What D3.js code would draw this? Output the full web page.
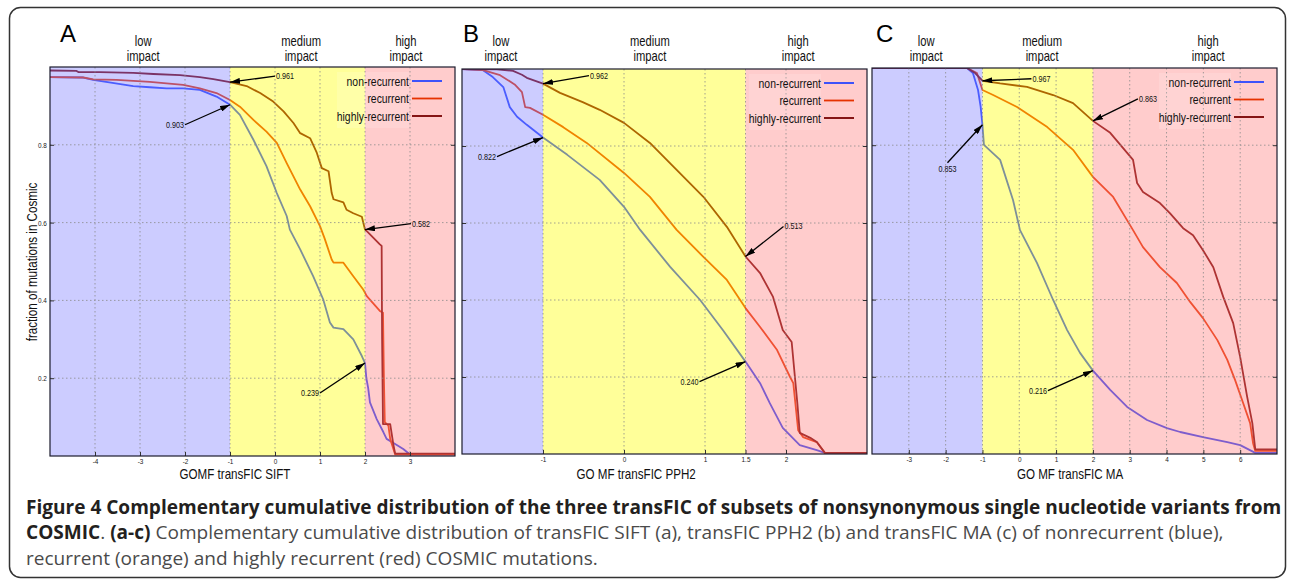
<!DOCTYPE html>
<html>
<head>
<meta charset="utf-8">
<script src="https://cdn.jsdelivr.net/npm/d3@7"></script>
<style>
  body { margin: 0; background: #fff; }
  svg { display: block; }
  .nar { font-family: "Liberation Sans", Arial, sans-serif; }
  .cap { font-family: "Open Sans", "Noto Sans", sans-serif; }
</style>
</head>
<body>
<svg id="fig" width="1290" height="579"></svg>
<script>
// series and impact classes
const seriesNames = ["non-recurrent", "recurrent", "highly-recurrent"];
const impactNames = ["low", "medium", "high"];
const yGrid = [0.2, 0.4, 0.6, 0.8];

// A : GOMF transFIC SIFT
const siftTicks = [-4, -3, -2, -1, 0, 1, 2, 3];
const siftCuts = [-5, -1, 2, 4];
const siftNonRec = [[-5,0.974],[-4.26,0.973],[-4.04,0.967],[-3.15,0.951],[-2.78,0.948],[-2.41,0.945],[-2.04,0.945],[-1.67,0.941],[-1.30,0.924],[-1.0,0.903],[-0.78,0.877],[-0.48,0.813],[-0.19,0.745],[0.04,0.676],[0.26,0.617],[0.33,0.582],[0.56,0.531],[0.85,0.462],[1.07,0.403],[1.22,0.343],[1.30,0.330],[1.52,0.326],[1.74,0.300],[1.93,0.257],[2.0,0.239],[2.03,0.200],[2.07,0.175],[2.11,0.138],[2.26,0.095],[2.41,0.061],[2.48,0.044],[2.67,0.031],[2.85,0.018],[3.0,0.004],[4,0.004]];
const siftRec = [[-5,0.974],[-4.26,0.973],[-4.04,0.968],[-3.52,0.967],[-2.78,0.962],[-2.04,0.954],[-1.67,0.945],[-1.30,0.933],[-1.0,0.915],[-0.78,0.898],[-0.48,0.864],[-0.19,0.834],[0.04,0.805],[0.26,0.753],[0.56,0.685],[0.78,0.642],[1.0,0.591],[1.10,0.560],[1.26,0.505],[1.30,0.497],[1.52,0.497],[1.74,0.462],[1.96,0.428],[2.04,0.411],[2.33,0.373],[2.40,0.368],[2.42,0.200],[2.44,0.087],[2.52,0.078],[2.56,0.044],[2.67,0.004],[4,0.004]];
const siftHigh = [[-5,0.991],[-4.41,0.990],[-4.37,0.987],[-3.89,0.987],[-3.15,0.985],[-2.70,0.982],[-2.11,0.979],[-1.67,0.974],[-1.37,0.969],[-1.0,0.961],[-0.63,0.951],[-0.33,0.933],[-0.04,0.911],[0.19,0.886],[0.41,0.856],[0.56,0.830],[0.78,0.817],[0.93,0.779],[1.04,0.740],[1.19,0.732],[1.26,0.676],[1.30,0.660],[1.52,0.652],[1.59,0.633],[1.74,0.624],[1.93,0.615],[2.0,0.582],[2.04,0.578],[2.33,0.544],[2.37,0.540],[2.38,0.300],[2.40,0.082],[2.56,0.082],[2.63,0.030],[2.67,0.006],[4,0.006]];
const siftNotes = [[-1, 0.961], [-1, 0.903], [2, 0.582], [2, 0.239]];

// B : GO MF transFIC PPH2
const pph2Ticks = [-1, 0, 1, 1.5, 2];
const pph2Cuts = [-2, -1, 1.5, 3];
const pph2NonRec = [[-2,1.0],[-1.74,0.997],[-1.62,0.979],[-1.49,0.953],[-1.41,0.901],[-1.32,0.876],[-1.20,0.855],[-1.0,0.822],[-0.70,0.777],[-0.30,0.712],[0,0.642],[0.20,0.582],[0.57,0.486],[0.94,0.400],[1.22,0.322],[1.5,0.240],[1.68,0.184],[1.80,0.132],[1.96,0.068],[2.17,0.023],[2.38,0.010],[2.48,0.003],[3,0.003]];
const pph2Rec = [[-2,1.0],[-1.74,0.997],[-1.53,0.984],[-1.35,0.960],[-1.26,0.940],[-1.22,0.901],[-1.16,0.899],[-1.0,0.881],[-0.75,0.849],[-0.46,0.808],[0,0.730],[0.32,0.668],[0.65,0.582],[0.98,0.512],[1.27,0.452],[1.5,0.379],[1.68,0.330],[1.89,0.270],[2.05,0.200],[2.09,0.184],[2.15,0.062],[2.21,0.044],[2.38,0.031],[2.48,0.003],[3,0.003]];
const pph2High = [[-2,1.0],[-1.57,0.999],[-1.37,0.995],[-1.26,0.985],[-1.20,0.977],[-1.0,0.962],[-0.79,0.938],[-0.51,0.914],[-0.30,0.894],[0,0.860],[0.32,0.808],[0.65,0.738],[0.98,0.668],[1.27,0.590],[1.5,0.513],[1.68,0.470],[1.84,0.408],[1.96,0.322],[2.07,0.291],[2.11,0.200],[2.14,0.132],[2.17,0.055],[2.30,0.042],[2.38,0.031],[2.48,0.003],[3,0.003]];
const pph2Notes = [[-1, 0.962], [-1, 0.822], [1.5, 0.513], [1.5, 0.240]];

// C : GO MF transFIC MA
const maTicks = [-3, -2, -1, 0, 1, 2, 3, 4, 5, 6];
const maCuts = [-4, -1, 2, 7];
const maNonRec = [[-4,1.0],[-1.42,1.0],[-1.26,0.987],[-1.12,0.943],[-1.05,0.900],[-1.0,0.853],[-0.96,0.801],[-0.52,0.762],[-0.17,0.658],[0.02,0.580],[0.48,0.495],[0.92,0.399],[1.30,0.321],[1.65,0.262],[2.0,0.216],[2.47,0.166],[2.93,0.122],[3.47,0.088],[4.01,0.067],[4.37,0.057],[4.99,0.044],[5.65,0.031],[6.0,0.023],[6.41,0.003],[7,0.003]];
const maRec = [[-4,1.0],[-1.42,1.0],[-1.15,0.987],[-1.0,0.943],[-0.71,0.930],[-0.06,0.899],[0.76,0.847],[1.46,0.788],[2.0,0.718],[2.55,0.666],[3.09,0.580],[3.36,0.536],[3.82,0.484],[4.28,0.443],[4.64,0.394],[4.99,0.352],[5.38,0.295],[5.65,0.244],[5.86,0.192],[6.08,0.132],[6.27,0.080],[6.35,0.028],[6.41,0.008],[7,0.008]];
const maHigh = [[-4,1.0],[-1.42,1.0],[-1.20,0.987],[-1.0,0.967],[-0.52,0.960],[0.21,0.951],[0.92,0.930],[1.46,0.909],[2.0,0.863],[2.47,0.832],[2.93,0.780],[3.09,0.762],[3.20,0.702],[3.36,0.679],[3.82,0.650],[4.09,0.624],[4.45,0.585],[4.72,0.567],[4.99,0.528],[5.27,0.484],[5.54,0.407],[5.81,0.339],[6.0,0.251],[6.19,0.148],[6.33,0.080],[6.41,0.012],[7,0.012]];
const maNotes = [[-1, 0.967], [-1, 0.853], [2, 0.863], [2, 0.216]];

const lineColors = ["rgb(40,70,255)", "rgb(230,50,0)", "rgb(120,0,0)"];
const bandColors = ["rgb(127,127,255)", "rgb(255,255,0)", "rgb(255,127,127)"];
const SQ = 0.8; // horizontal squeeze, stands in for a narrow face

const panels = [
  { letter: "A", letterX: 60, left: 50, right: 455, top: 67, bottom: 456, domain: [-5, 4],
    ticks: siftTicks, cuts: siftCuts, series: [siftNonRec, siftRec, siftHigh], notes: siftNotes,
    noteOff: [[45, -6, "start"], [-45, 20, "end"], [46, -6, "start"], [-45, 30, "end"]],
    impactAt: [-2.93, 0.58, 2.91], title: "GOMF transFIC SIFT", titleAt: -0.89, yLabels: true },
  { letter: "B", letterX: 463, left: 462, right: 867, top: 69, bottom: 454, domain: [-2, 3],
    ticks: pph2Ticks, cuts: pph2Cuts, series: [pph2NonRec, pph2Rec, pph2High], notes: pph2Notes,
    noteOff: [[46, -8, "start"], [-46, 19, "end"], [38, -30, "start"], [-46, 20, "end"]],
    impactAt: [-1.52, 0.32, 2.15], title: "GO MF transFIC PPH2", titleAt: 0.15, yLabels: false },
  { letter: "C", letterX: 876, left: 872, right: 1277, top: 68, bottom: 454, domain: [-4, 7],
    ticks: maTicks, cuts: maCuts, series: [maNonRec, maRec, maHigh], notes: maNotes,
    noteOff: [[49, -2, "start"], [-35, 38, "middle"], [45, -22, "start"], [-45, 20, "end"]],
    impactAt: [-2.53, 0.62, 5.13], title: "GO MF transFIC MA", titleAt: 1.38, yLabels: false }
];

const fig = d3.select("#fig");
const defs = fig.append("defs");
defs.append("marker")
    .attr("id", "arrowHead")
    .attr("viewBox", "0 0 10 6")
    .attr("refX", 10).attr("refY", 3)
    .attr("markerWidth", 10).attr("markerHeight", 6)
    .attr("markerUnits", "userSpaceOnUse")
    .attr("orient", "auto")
  .append("path").attr("d", "M0,0L10,3L0,6Z").attr("fill", "#000");

// narrow text helper: position by transform then squeeze horizontally
function narrowText(parent, x, y, str, size, anchor) {
  return parent.append("text")
    .attr("class", "nar")
    .attr("transform", `translate(${x},${y}) scale(${SQ},1)`)
    .attr("text-anchor", anchor || "start")
    .attr("font-size", size)
    .attr("fill", "#111")
    .text(str);
}

// outer frame
fig.append("rect")
   .attr("x", 9.5).attr("y", 7.5).attr("width", 1276).attr("height", 570)
   .attr("rx", 11).attr("fill", "none").attr("stroke", "#333").attr("stroke-width", 1.5);

const fmt = d3.format(".3f");

panels.forEach((p, pi) => {
  const x = d3.scaleLinear().domain(p.domain).range([p.left, p.right]);
  const y = d3.scaleLinear().domain([0, 1]).range([p.bottom, p.top]);
  const g = fig.append("g");
  const clipId = "clip" + pi;
  defs.append("clipPath").attr("id", clipId)
      .append("rect").attr("x", p.left).attr("y", p.top)
      .attr("width", p.right - p.left).attr("height", p.bottom - p.top);

  const plot = g.append("g").attr("clip-path", `url(#${clipId})`);
  const line = d3.line().x(d => x(d[0])).y(d => y(d[1]));

  plot.selectAll("path.curve")
      .data(p.series)
      .join("path")
      .attr("class", "curve")
      .attr("d", line)
      .attr("fill", "none")
      .attr("stroke", (d, i) => lineColors[i])
      .attr("stroke-width", 1.8)
      .attr("stroke-linejoin", "round");

  // legend samples sit under the tint too
  const legY = i => p.top + 14 + i * 17.5;
  g.selectAll("line.legSample")
   .data(seriesNames)
   .join("line")
   .attr("class", "legSample")
   .attr("x1", p.right - 43).attr("x2", p.right - 13)
   .attr("y1", (d, i) => legY(i)).attr("y2", (d, i) => legY(i))
   .attr("stroke", (d, i) => lineColors[i]).attr("stroke-width", 1.8);

  // impact bands as translucent tint over the curves
  const bandData = d3.range(3).map(i => [p.cuts[i], p.cuts[i + 1]]);
  plot.selectAll("rect.band")
      .data(bandData)
      .join("rect")
      .attr("class", "band")
      .attr("x", d => x(d[0])).attr("width", d => x(d[1]) - x(d[0]))
      .attr("y", p.top).attr("height", p.bottom - p.top)
      .attr("fill", (d, i) => bandColors[i]).attr("fill-opacity", 0.4);

  // faint legend backdrop
  g.append("rect")
   .attr("x", p.right - 118).attr("y", p.top + 5)
   .attr("width", 72).attr("height", 56)
   .attr("fill", "#fff").attr("fill-opacity", 0.15);

  // grid
  plot.selectAll("line.vgrid")
      .data(p.ticks)
      .join("line")
      .attr("x1", d => x(d)).attr("x2", d => x(d))
      .attr("y1", p.top).attr("y2", p.bottom)
      .attr("stroke", "#8a8a8a").attr("stroke-width", 0.8).attr("stroke-dasharray", "1.5,2.5");
  plot.selectAll("line.hgrid")
      .data(yGrid)
      .join("line")
      .attr("x1", p.left).attr("x2", p.right)
      .attr("y1", d => y(d)).attr("y2", d => y(d))
      .attr("stroke", "#8a8a8a").attr("stroke-width", 0.8).attr("stroke-dasharray", "1.5,2.5");

  // axes
  const xAxis = g.append("g")
      .attr("transform", `translate(0,${p.bottom})`)
      .call(d3.axisBottom(x).tickValues(p.ticks).tickSize(-4).tickPadding(2).tickFormat(d => String(d)));
  xAxis.select(".domain").remove();
  xAxis.selectAll("text").attr("class", "nar").attr("font-size", 8).attr("fill", "#222")
       .attr("transform", `scale(${SQ},1)`);
  xAxis.selectAll("line").attr("stroke", "#333");

  const yAxis = g.append("g")
      .attr("transform", `translate(${p.left},0)`)
      .call(d3.axisLeft(y).tickValues(yGrid).tickSize(-4).tickPadding(4)
              .tickFormat(d => p.yLabels ? d3.format(".1f")(d) : ""));
  yAxis.select(".domain").remove();
  yAxis.selectAll("text").attr("class", "nar").attr("font-size", 8).attr("fill", "#222")
       .attr("transform", `scale(${SQ},1)`);
  yAxis.selectAll("line").attr("stroke", "#333");
  const yAxisR = g.append("g")
      .attr("transform", `translate(${p.right},0)`)
      .call(d3.axisRight(y).tickValues(yGrid).tickSize(-4).tickFormat(""));
  yAxisR.select(".domain").remove();
  yAxisR.selectAll("line").attr("stroke", "#333");

  g.append("rect")
   .attr("x", p.left).attr("y", p.top)
   .attr("width", p.right - p.left).attr("height", p.bottom - p.top)
   .attr("fill", "none").attr("stroke", "#1c1c2e").attr("stroke-width", 1.2);

  // legend text
  seriesNames.forEach((name, i) => {
    narrowText(g, p.right - 46, legY(i) + 4.5, name, 13, "end");
  });

  // annotations
  p.notes.forEach((n, i) => {
    const [dx, dy, anchor] = p.noteOff[i];
    const tx = x(n[0]), ty = y(n[1]);
    const sx = tx + dx, sy = ty + dy;
    g.append("line")
     .attr("x1", sx).attr("y1", sy).attr("x2", tx).attr("y2", ty)
     .attr("stroke", "#000").attr("stroke-width", 1.3)
     .attr("marker-end", "url(#arrowHead)");
    const lx = anchor === "start" ? sx + 1 : anchor === "end" ? sx - 1 : sx;
    const ly = anchor === "middle" ? sy + 9 : sy + 3;
    narrowText(g, lx, ly, fmt(n[1]), 9, anchor);
  });

  // impact headings
  impactNames.forEach((name, i) => {
    narrowText(g, x(p.impactAt[i]), 46, name, 14, "middle");
    narrowText(g, x(p.impactAt[i]), 61, "impact", 14, "middle");
  });

  g.append("text")
   .attr("x", p.letterX).attr("y", 42)
   .attr("font-family", "Liberation Sans, Arial, sans-serif")
   .attr("font-size", 24).attr("fill", "#000")
   .text(p.letter);

  narrowText(g, x(p.titleAt), 479, p.title, 14.5, "middle");
});

fig.append("text")
   .attr("class", "nar")
   .attr("transform", `translate(37,262) rotate(-90) scale(${SQ},1)`)
   .attr("text-anchor", "middle")
   .attr("font-size", 14.5).attr("fill", "#111")
   .text("fraction of mutations in Cosmic");

// caption
const capLines = [
  [["b", "Figure 4 Complementary cumulative distribution of the three transFIC of subsets of nonsynonymous single nucleotide variants from"]],
  [["b", "COSMIC"], ["r", ". "], ["b", "(a-c)"], ["r", " Complementary cumulative distribution of transFIC SIFT (a), transFIC PPH2 (b) and transFIC MA (c) of nonrecurrent (blue),"]],
  [["r", "recurrent (orange) and highly recurrent (red) COSMIC mutations."]]
];
const capBase = [514, 539, 565];
const cap = fig.append("g").attr("class", "cap");
const capTexts = capLines.map((ln, i) => {
  const t = cap.append("text").attr("x", 0).attr("y", capBase[i])
     .attr("font-size", 19).style("white-space", "pre");
  ln.forEach(seg => {
    t.append("tspan")
     .attr("font-weight", seg[0] === "b" ? 700 : 400)
     .attr("fill", seg[0] === "b" ? "#231f20" : "#4a4a4a")
     .text(seg[1]);
  });
  return t;
});
const w0 = capTexts[0].node().getComputedTextLength();
cap.attr("transform", `translate(26,0) scale(${1256 / w0},1)`);
</script>
</body>
</html>
